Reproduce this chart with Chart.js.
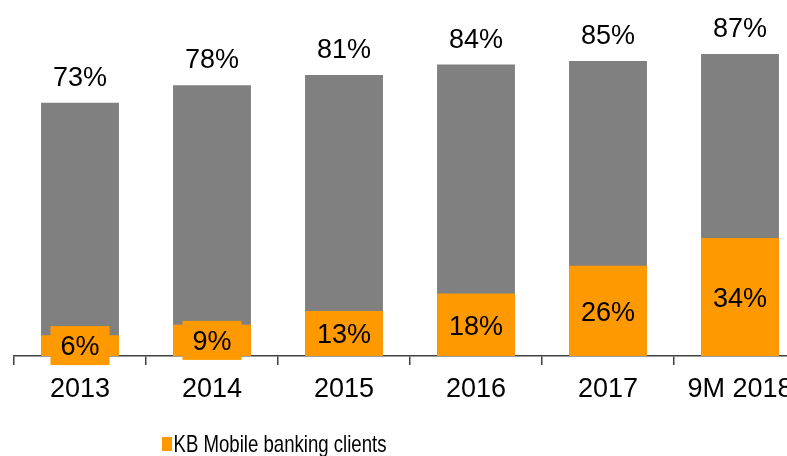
<!DOCTYPE html>
<html>
<head>
<meta charset="utf-8">
<title>KB banking clients</title>
<script src="https://cdn.jsdelivr.net/npm/chart.js@4.4.1/dist/chart.umd.min.js"></script>
<style>
  html, body { margin: 0; padding: 0; overflow: hidden; background: #fff; }
  #wrap { width: 812px; height: 456px; }
</style>
</head>
<body>
<div id="wrap"><canvas id="chart" width="812" height="456"></canvas></div>
<script>
// Share of clients (%) per period
const categories = ['2013', '2014', '2015', '2016', '2017', '9M 2018'];
const totalShare = [73, 78, 81, 84, 85, 87];
const mobileShare = [6, 9, 13, 18, 26, 34];
const mobileLabel = 'KB Mobile banking clients';

const ORANGE = '#FF9900';
const GREY = '#808080';
const FAMILY = '"Liberation Sans", Arial, Helvetica, sans-serif';

// Percent labels: totals above the grey bars, mobile share on an orange tag
const valueLabels = {
  id: 'valueLabels',
  afterDatasetsDraw(chart) {
    const ctx = chart.ctx;
    ctx.save();
    ctx.font = '27px ' + FAMILY;
    ctx.textAlign = 'center';
    ctx.textBaseline = 'alphabetic';

    chart.getDatasetMeta(1).data.forEach((bar, i) => {
      ctx.fillStyle = '#000';
      ctx.fillText(totalShare[i] + '%', bar.x, bar.y - 17);
    });

    chart.getDatasetMeta(0).data.forEach((bar, i) => {
      const text = mobileShare[i] + '%';
      const w = ctx.measureText(text).width + 20;
      const h = 39;
      const cy = (bar.y + bar.base) / 2;
      ctx.fillStyle = ORANGE;
      ctx.fillRect(bar.x - w / 2, cy - h / 2, w, h);
      ctx.fillStyle = '#000';
      ctx.fillText(text, bar.x, cy + 9.8);
    });
    ctx.restore();
  }
};

// Single-entry legend in a condensed face below the axis labels
const legendRow = {
  id: 'legendRow',
  afterDraw(chart) {
    const ds = chart.data.datasets[0];
    const ctx = chart.ctx;
    const baseline = chart.chartArea.bottom + 96;
    ctx.save();
    ctx.fillStyle = ds.backgroundColor;
    ctx.fillRect(162, baseline - 15, 10, 14);
    ctx.translate(173.5, baseline);
    ctx.scale(0.775, 1);
    ctx.font = '24px ' + FAMILY;
    ctx.textAlign = 'left';
    ctx.textBaseline = 'alphabetic';
    ctx.fillStyle = '#000';
    ctx.fillText(ds.label, 0, 0);
    ctx.restore();
  }
};

new Chart(document.getElementById('chart'), {
  type: 'bar',
  data: {
    labels: categories,
    datasets: [
      {
        label: mobileLabel,
        data: mobileShare,
        backgroundColor: ORANGE,
        grouped: false,
        barPercentage: 0.59,
        categoryPercentage: 1.0
      },
      {
        label: 'Total',
        data: totalShare,
        backgroundColor: GREY,
        grouped: false,
        barPercentage: 0.59,
        categoryPercentage: 1.0
      }
    ]
  },
  options: {
    responsive: false,
    devicePixelRatio: 1,
    animation: false,
    layout: { padding: { left: 14, right: 6, top: 9, bottom: 34 } },
    scales: {
      x: {
        offset: true,
        grid: {
          offset: true,
          drawOnChartArea: false,
          drawTicks: true,
          tickLength: 9,
          color: '#404040',
          lineWidth: 1.5
        },
        border: { color: '#404040', width: 1.5 },
        ticks: {
          color: '#000',
          font: { family: FAMILY, size: 27 },
          padding: 8,
          maxRotation: 0,
          autoSkip: false
        },
        afterFit(scale) { scale.height = 66; }
      },
      y: {
        display: false,
        min: 0,
        max: 100
      }
    },
    plugins: {
      legend: { display: false },
      tooltip: { enabled: false }
    }
  },
  plugins: [valueLabels, legendRow]
});
</script>
</body>
</html>
